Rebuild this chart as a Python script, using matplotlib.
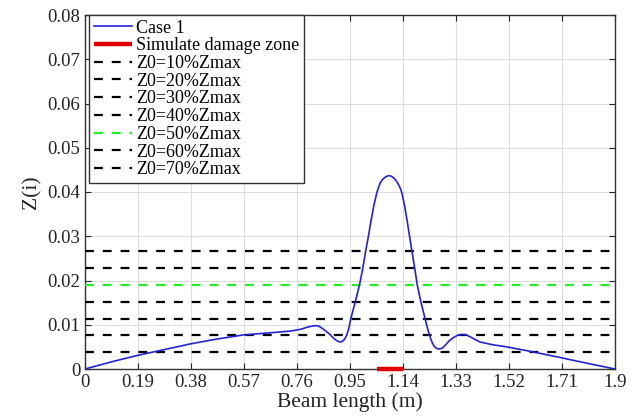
import matplotlib
matplotlib.use("Agg")
import matplotlib.pyplot as plt

plt.rcParams['font.family'] = ['Liberation Serif', 'DejaVu Serif']

# Case 1 curve
beam_x = [0, 0.10, 0.19, 0.30, 0.38, 0.466, 0.568, 0.687, 0.740, 0.775, 0.80, 0.815,
          0.825, 0.838, 0.85, 0.865, 0.878, 0.890, 0.902, 0.914, 0.922, 0.930, 0.938,
          0.946, 0.953, 0.969, 0.984, 0.996, 1.006, 1.016, 1.024, 1.035, 1.046, 1.052,
          1.058, 1.066, 1.075, 1.083, 1.091, 1.100, 1.108, 1.116, 1.123, 1.130, 1.136,
          1.146, 1.156, 1.164, 1.172, 1.182, 1.191, 1.204, 1.219, 1.227, 1.235, 1.243,
          1.252, 1.262, 1.270, 1.280, 1.292, 1.306, 1.321, 1.335, 1.350, 1.362, 1.377,
          1.392, 1.416, 1.46, 1.512, 1.596, 1.703, 1.80, 1.90]
case1_z = [0, 0.0017, 0.0031, 0.0046, 0.0057, 0.0067, 0.0077, 0.0083, 0.0086, 0.0090,
           0.0095, 0.0097, 0.0098, 0.0097, 0.0092, 0.0085, 0.0078, 0.0070, 0.0064,
           0.0061, 0.0062, 0.0067, 0.0076, 0.0093, 0.0114, 0.0152, 0.0190, 0.0228,
           0.0266, 0.0300, 0.0330, 0.0368, 0.0398, 0.0410, 0.0420, 0.0428, 0.0433,
           0.0436, 0.0437, 0.0435, 0.0431, 0.0425, 0.0418, 0.0409, 0.0398, 0.0368,
           0.0330, 0.0298, 0.0266, 0.0228, 0.0190, 0.0152, 0.0114, 0.0094, 0.0076,
           0.0062, 0.0051, 0.0046, 0.0045, 0.0047, 0.0054, 0.0064, 0.0071, 0.0076,
           0.0078, 0.0078, 0.0074, 0.0069, 0.0061, 0.0055, 0.0050, 0.0040, 0.0026,
           0.0013, 0]

damage_x = [1.046, 1.14]
damage_z = [0, 0]

threshold_labels = ['Z0=10%Zmax', 'Z0=20%Zmax', 'Z0=30%Zmax', 'Z0=40%Zmax',
                    'Z0=50%Zmax', 'Z0=60%Zmax', 'Z0=70%Zmax']
threshold_values = [0.0038, 0.0076, 0.0114, 0.0152, 0.0190, 0.0228, 0.0266]
threshold_colors = ['black', 'black', 'black', 'black', '#22ee22', 'black', 'black']

xticks = [0, 0.19, 0.38, 0.57, 0.76, 0.95, 1.14, 1.33, 1.52, 1.71, 1.9]
xtick_labels = ['0', '0.19', '0.38', '0.57', '0.76', '0.95', '1.14', '1.33', '1.52', '1.71', '1.9']
yticks = [0, 0.01, 0.02, 0.03, 0.04, 0.05, 0.06, 0.07, 0.08]
ytick_labels = ['0', '0.01', '0.02', '0.03', '0.04', '0.05', '0.06', '0.07', '0.08']

fig = plt.figure(figsize=(6.42, 4.18), dpi=100)
ax = fig.add_axes([85/642, 1-369/418, 530/642, (369-15)/418])

ax.plot(beam_x, case1_z, color='#2323d6', lw=1.2, label='Case 1', zorder=4)
ax.plot(damage_x, damage_z, color='#e00000', lw=3.2, label='Simulate damage zone',
        solid_capstyle='butt', zorder=5, clip_on=False)
for lab, val, col in zip(threshold_labels, threshold_values, threshold_colors):
    ax.axhline(val, color=col, lw=1.6, linestyle=(0, (4, 4)), label=lab, zorder=3)

ax.set_xlim(0, 1.9)
ax.set_ylim(0, 0.08)
ax.set_xticks(xticks)
ax.set_xticklabels(xtick_labels)
ax.set_yticks(yticks)
ax.set_yticklabels(ytick_labels)
ax.tick_params(direction='in', top=True, right=True, labelsize=13.5, length=4,
               width=0.8, colors='#222222', labelcolor='#222222')
ax.grid(True, color='#dddddd', lw=0.8)
ax.set_axisbelow(True)
for s in ax.spines.values():
    s.set_color('#333333')
    s.set_linewidth(1.0)

ax.set_xlabel('Beam length (m)', fontsize=15.5, labelpad=1, color='#222222')
ax.set_ylabel('Z(i)', fontsize=15.5, labelpad=4, color='#222222')

leg = ax.legend(loc='upper left', bbox_to_anchor=(0.008, 1.0), fontsize=13,
                frameon=True, fancybox=False, edgecolor='#333333', framealpha=1,
                borderaxespad=0, handlelength=2.1, handletextpad=0.25,
                labelspacing=0.04, borderpad=0.25)
leg.get_frame().set_linewidth(1.0)

fig.savefig('out.png', dpi=100)
